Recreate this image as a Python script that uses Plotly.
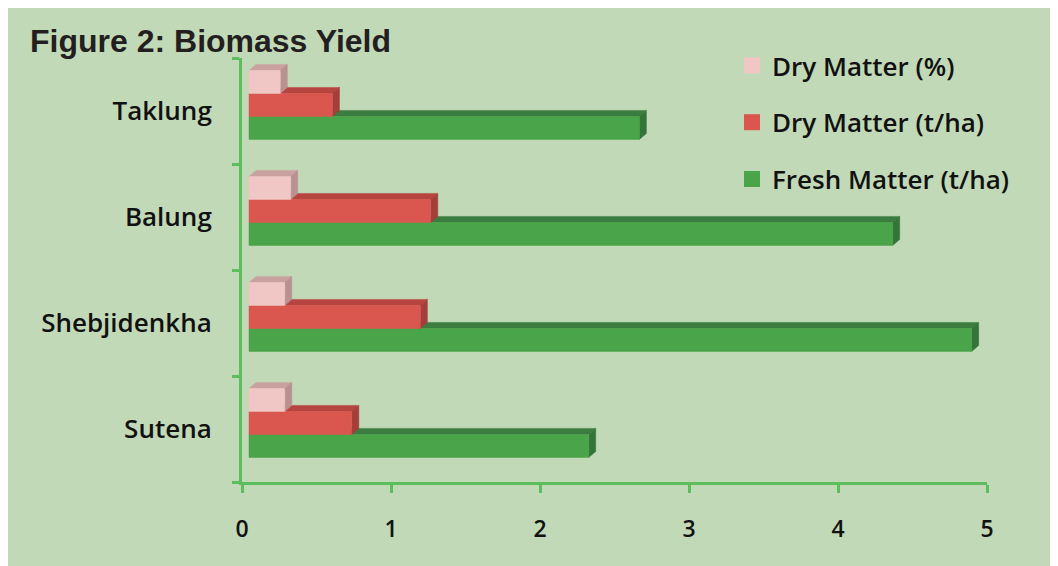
import plotly.graph_objects as go

# ---- data ----
categories = ["Sutena", "Shebjidenkha", "Balung", "Taklung"]
fresh_matter_tha = [2.28, 4.85, 4.32, 2.62]
dry_matter_tha = [0.69, 1.15, 1.22, 0.56]
dry_matter_pct = [0.24, 0.24, 0.28, 0.21]
x_tick_values = [0, 1, 2, 3, 4, 5]
series_names = ["Fresh Matter (t/ha)", "Dry Matter (t/ha)", "Dry Matter (%)"]

# ---- styling ----
BG = "#c2d9b7"
AXIS = "#5cbd5c"
front_colors = ["#4aa449", "#d9574f", "#f0c7c4"]
top_colors = ["#3b7d40", "#b6453f", "#c9a2a0"]
side_colors = ["#357439", "#a33e39", "#b89190"]
slots = [-1, 0, 1]
BAR_W = 0.217   # bar thickness in category units
DX = 0.047      # 3-D depth along x (data units)
DY = 0.057      # 3-D depth along y (category units)

values = [fresh_matter_tha, dry_matter_tha, dry_matter_pct]

fig = go.Figure()

# legend entries (top to bottom: Dry %, Dry t/ha, Fresh)
for k in [2, 1, 0]:
    fig.add_trace(go.Scatter(
        x=[None], y=[None], mode="markers", name=series_names[k],
        marker=dict(symbol="square", size=16, color=front_colors[k]),
        legendgroup=series_names[k], showlegend=True, hoverinfo="skip"))

def polys(vals, slot, face):
    xs, ys = [], []
    for i, v in enumerate(vals):
        yc = i + DY + slot * BAR_W
        yb, yt = yc - BAR_W / 2, yc + BAR_W / 2
        if face == "front":
            px = [DX, v + DX, v + DX, DX, DX]
            py = [yb, yb, yt, yt, yb]
        elif face == "top":
            px = [DX, v + DX, v + 2 * DX, 2 * DX, DX]
            py = [yt, yt, yt + DY, yt + DY, yt]
        else:
            px = [v + DX, v + 2 * DX, v + 2 * DX, v + DX, v + DX]
            py = [yb, yb + DY, yt + DY, yt, yb]
        xs += px + [None]
        ys += py + [None]
    return xs, ys

for k in range(3):
    for face, col in (("top", top_colors[k]), ("side", side_colors[k]), ("front", front_colors[k])):
        xs, ys = polys(values[k], slots[k], face)
        fig.add_trace(go.Scatter(
            x=xs, y=ys, mode="lines", fill="toself", fillcolor=col,
            line=dict(color=col, width=0.5), showlegend=False,
            legendgroup=series_names[k], hoverinfo="skip"))

fig.update_layout(
    width=1058, height=566,
    margin=dict(l=234, r=79, t=50, b=92),
    paper_bgcolor=BG,
    plot_bgcolor="rgba(0,0,0,0)",
    showlegend=True,
    legend=dict(
        x=490 / 745, y=1 + 16 / 424, xanchor="left", yanchor="top",
        bgcolor="rgba(0,0,0,0)", traceorder="grouped", tracegroupgap=20,
        font=dict(family="Open Sans", size=26, color="#111111", weight=600)),
    annotations=[dict(
        text="<b>Figure 2: Biomass Yield</b>", xref="paper", yref="paper",
        x=-214 / 745, y=1 + 17 / 424, xanchor="left", yanchor="middle",
        showarrow=False,
        font=dict(family="Liberation Sans, Arial", size=32, color="#231f20"))],
)

fig.update_xaxes(
    range=[0, 5], tickvals=x_tick_values, ticks="outside", ticklen=8,
    tickwidth=3, tickcolor=AXIS, showline=True, linecolor=AXIS, linewidth=3,
    showgrid=False, zeroline=False, ticklabelstandoff=16,
    tickfont=dict(family="Open Sans", size=23, color="#111111", weight=600))

fig.update_yaxes(
    range=[-0.5, 3.5], tickvals=list(range(len(categories))), ticktext=categories,
    ticks="", showline=True, linecolor=AXIS, linewidth=3, showgrid=False,
    zeroline=False, ticklabelstandoff=22,
    minor=dict(tickvals=[-0.5, 0.5, 1.5, 2.5, 3.5], ticks="outside", ticklen=7,
               tickwidth=3, tickcolor=AXIS, showgrid=False),
    tickfont=dict(family="Open Sans", size=26, color="#111111", weight=600))

fig.write_html("out.html")
